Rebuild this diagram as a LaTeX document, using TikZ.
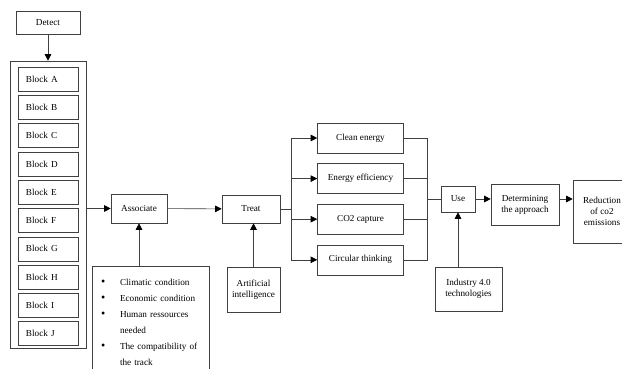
\documentclass[tikz,border=0pt]{standalone}
\usepackage{fontspec}
\setmainfont{Liberation Serif}
\usepackage{tikz}
\usetikzlibrary{positioning,arrows.meta}

\begin{document}
\begin{tikzpicture}[x=1pt, y=-1pt, node distance=10pt,
  every node/.style={font=\fontsize{9.2}{11}\selectfont},
  box/.style={rectangle, draw=black!75, line width=0.6pt, align=center, inner sep=2pt},
  blockbox/.style={box, minimum height=24pt, text width=44pt, inner xsep=8pt, align=left},
  arr/.style={-{Triangle[length=6.5pt,width=6.5pt,black]}, draw=black!75, line width=0.6pt},
  link/.style={draw=black!75, line width=0.6pt}]
\useasboundingbox (0,0) rectangle (622,369);

% detection and the ten blocks
\node[box, minimum width=64pt, minimum height=23pt] (detect) at (48,22.5) {Detect};
\node[box, minimum width=76pt, minimum height=287pt] (frame) at (48,204.5) {};
\node[blockbox, below=6pt of frame.north] (blockA) {Block A};
\foreach \cur/\prev in {B/A,C/B,D/C,E/D,F/E,G/F,H/G,I/H,J/I}
  \node[blockbox, below=3.7pt of block\prev] (block\cur) {Block \cur};

\node[box, minimum width=56pt, minimum height=29pt] (associate) at (139,208.5) {Associate};
\node[box, minimum width=117pt, minimum height=112pt, text width=99pt, inner xsep=9pt, inner ysep=5pt,
  align=left, anchor=north, font=\fontsize{9.2}{16}\selectfont] (criteria) at (150.5,266)
  {\makebox[19pt][l]{\large\textbullet}Climatic condition\\
   \makebox[19pt][l]{\large\textbullet}Economic condition\\
   \makebox[19pt][l]{\large\textbullet}Human ressources\\
   \hspace*{19pt}needed\\
   \makebox[19pt][l]{\large\textbullet}The compatibility of\\
   \hspace*{19pt}the track};

\node[box, minimum width=58pt, minimum height=28pt] (treat) at (251,209) {Treat};
\node[box, minimum width=53pt, minimum height=45pt] (ai) at (253.5,289.5) {Artificial\\intelligence};

% the four levers
\node[box, minimum width=86pt, minimum height=30pt] (clean) at (360.5,138) {Clean energy};
\node[box, minimum width=86pt, minimum height=30pt, below=of clean] (efficiency) {Energy efficiency};
\node[box, minimum width=86pt, minimum height=30pt, below=of efficiency] (capture) {CO2 capture};
\node[box, minimum width=86pt, minimum height=30pt, below=of capture] (circular) {Circular thinking};

\node[box, minimum width=34pt, minimum height=26pt] (use) at (458,199) {Use};
\node[box, minimum width=67pt, minimum height=44pt] (industry) at (468.5,289) {Industry 4.0\\technologies};
\node[box, minimum width=68pt, minimum height=41pt] (approach) at (525,204.5) {Determining\\the approach};
\node[box, minimum width=58pt, minimum height=63pt] (reduction) at (602,211.5) {Reduction\\of co2\\emissions};

\coordinate[right=11pt of treat] (split);
\coordinate[left=13pt of use] (merge);

\draw[arr] (detect) -- (frame);
\draw[arr] (frame.east |- associate.west) -- (associate.west);
\draw[arr] (criteria.north -| associate.south) -- (associate.south);
\draw[arr] (associate) -- (treat);
\draw[arr] (ai.north) -- (ai.north |- treat.south);
\draw[link] (treat) -- (split);
\foreach \lever in {clean,efficiency,capture,circular}
  \draw[arr] (split) |- (\lever);
\foreach \lever in {clean,efficiency,capture,circular}
  \draw[link] (\lever) -| (merge);
\draw[link] (merge) -- (use);
\draw[arr] (industry.north -| use.south) -- (use.south);
\draw[arr] (use) -- (use -| approach.west);
\draw[arr] (approach.east |- use.east) -- (approach.east |- use.east -| reduction.west);
\end{tikzpicture}
\end{document}
